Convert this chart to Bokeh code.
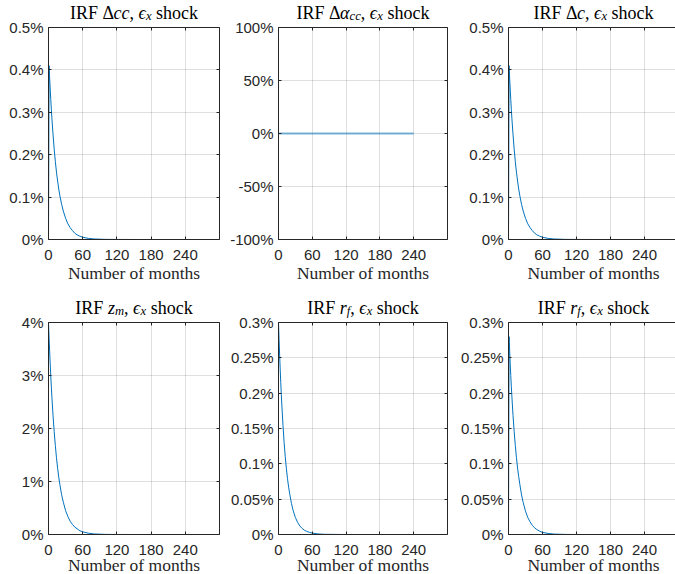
from bokeh.plotting import figure
from bokeh.layouts import gridplot
from bokeh.models import Range1d, FixedTicker, Label, LinearAxis, Grid
from bokeh.embed import file_html
from bokeh.resources import INLINE

# ---------------- data (values in percent) ----------------
months = [0, 1, 2, 3, 4, 5, 6, 8, 10, 12, 14, 16, 18, 20, 23, 26, 30, 34, 38, 42,
          46, 50, 55, 60, 70, 80, 100, 120, 160, 200, 240]

irf_dcc = [0, 0.410, 0.381, 0.355, 0.330, 0.307, 0.285, 0.247, 0.213, 0.184, 0.159,
           0.138, 0.119, 0.103, 0.083, 0.067, 0.050, 0.037, 0.028, 0.021, 0.015,
           0.011, 0.0078, 0.0054, 0.0026, 0.0012, 0.0003, 0.0001, 0, 0, 0]

months_alpha = [0, 240]
irf_dalpha = [0, 0]

irf_dc = [0, 0.410, 0.381, 0.355, 0.330, 0.307, 0.285, 0.247, 0.213, 0.184, 0.159,
          0.138, 0.119, 0.103, 0.083, 0.067, 0.050, 0.037, 0.028, 0.021, 0.015,
          0.011, 0.0078, 0.0054, 0.0026, 0.0012, 0.0003, 0.0001, 0, 0, 0]

irf_zm = [4.00, 3.72, 3.46, 3.22, 2.99, 2.78, 2.59, 2.24, 1.94, 1.68, 1.45,
          1.25, 1.08, 0.94, 0.75, 0.61, 0.45, 0.34, 0.25, 0.19, 0.14,
          0.11, 0.07, 0.05, 0.025, 0.010, 0.002, 0.0005, 0, 0, 0]

irf_rf_a = [0.300, 0.276, 0.254, 0.234, 0.215, 0.198, 0.182, 0.154, 0.130, 0.110, 0.093,
            0.079, 0.067, 0.057, 0.044, 0.034, 0.024, 0.017, 0.012, 0.0085, 0.006,
            0.0045, 0.003, 0.002, 0.0008, 0.0003, 0.0001, 0, 0, 0, 0]

irf_rf_b = [0, 0.280, 0.260, 0.242, 0.225, 0.209, 0.195, 0.168, 0.146, 0.126, 0.109,
            0.094, 0.082, 0.071, 0.056, 0.045, 0.033, 0.024, 0.018, 0.013, 0.0095,
            0.007, 0.0047, 0.003, 0.0015, 0.0006, 0.0001, 0, 0, 0, 0]

x_ticks = [0, 60, 120, 180, 240]
x_max = 300

yt_small = [0, 0.1, 0.2, 0.3, 0.4, 0.5]
yl_small = ["0%", "0.1%", "0.2%", "0.3%", "0.4%", "0.5%"]
yt_alpha = [-100, -50, 0, 50, 100]
yl_alpha = ["-100%", "-50%", "0%", "50%", "100%"]
yt_zm = [0, 1, 2, 3, 4]
yl_zm = ["0%", "1%", "2%", "3%", "4%"]
yt_rf = [0, 0.05, 0.1, 0.15, 0.2, 0.25, 0.3]
yl_rf = ["0%", "0.05%", "0.1%", "0.15%", "0.2%", "0.25%", "0.3%"]

x_label = "Number of months"

# title pieces: (text, italic, subscript)
titles = [
    [("IRF Δ", False, False), ("cc", True, False), (", ", False, False),
     ("ϵ", True, False), ("x", True, True), (" shock", False, False)],
    [("IRF Δ", False, False), ("α", True, False), ("cc", True, True), (", ", False, False),
     ("ϵ", True, False), ("x", True, True), (" shock", False, False)],
    [("IRF Δ", False, False), ("c", True, False), (", ", False, False),
     ("ϵ", True, False), ("x", True, True), (" shock", False, False)],
    [("IRF ", False, False), ("z", True, False), ("m", True, True), (", ", False, False),
     ("ϵ", True, False), ("x", True, True), (" shock", False, False)],
    [("IRF ", False, False), ("r", True, False), ("f", True, True), (", ", False, False),
     ("ϵ", True, False), ("x", True, True), (" shock", False, False)],
    [("IRF ", False, False), ("r", True, False), ("f", True, True), (", ", False, False),
     ("ϵ", True, False), ("x", True, True), (" shock", False, False)],
]

# ---------------- styling / geometry ----------------
AX = "#262626"
BLUE = "#0072BD"
SERIF = "Liberation Serif"
SANS = "Liberation Sans"
TITLE_SIZE = 18.0
XLAB_SIZE = 17.5
BASE_FIX = 6.0   # renderer places alphabetic baselines this much lower

REG = {' ': 250, 'I': 333, 'R': 667, 'F': 556, ',': 250, 's': 389, 'h': 500,
       'o': 500, 'c': 444, 'k': 500, 'Δ': 612}
ITA = {'c': 444, 'z': 389, 'm': 722, 'r': 389, 'x': 444, 'f': 278, 'α': 530, 'ϵ': 420}

FIG_W = 225
# per column: (box left px within figure, full box width px, draw right edge)
col_cfg = [(48, 171, True), (53, 169, True), (58, 170, False)]
# per row: (figure height, box top px, box height px, x-label baseline from figure bottom)
row_cfg = [(295, 27, 212, 16.7), (279, 27, 212, 4.0)]
TITLE_BASE_FROM_TOP = 18.3


def seg_width(text, italic, size):
    table = ITA if italic else REG
    return sum(table.get(ch, 500) for ch in text) * size / 1000.0


def add_title(p, segs, cx, base_y):
    parts = []
    for text, italic, sub in segs:
        fs = TITLE_SIZE * 0.7 if sub else TITLE_SIZE
        parts.append((text, italic, sub, fs, seg_width(text, italic, fs)))
    total = sum(pt[4] for pt in parts)
    x = cx - total / 2.0
    for text, italic, sub, fs, w in parts:
        lead = len(text) - len(text.lstrip(' '))
        shown = text.strip(' ')
        if shown:
            p.add_layout(Label(
                x=x + lead * REG[' '] * fs / 1000.0,
                y=base_y - (0.15 * TITLE_SIZE if sub else 0),
                x_units="screen", y_units="screen", text=shown,
                text_font=SERIF, text_font_size=f"{fs:.1f}px",
                text_font_style="italic" if italic else "normal",
                text_align="left", text_baseline="alphabetic", text_color="black"))
        x += w


def style_axis(ax, show_labels):
    ax.axis_line_color = AX
    ax.axis_line_width = 1
    ax.major_tick_line_color = AX
    ax.major_tick_in = 3
    ax.major_tick_out = 0
    ax.minor_tick_line_color = None
    ax.major_label_text_font = SANS
    ax.major_label_text_font_size = "15px"
    ax.major_label_text_color = AX if show_labels else None


HAS_CROSS = "cross_bounds" in Grid.properties()


def make_panel(r, c, xs, ys, yrange, yticks, ylabels, segs, lw=1.0, la=1.0):
    bl, bw, right_edge = col_cfg[c]
    fh, bt, bh, xl_base = row_cfg[r]
    ux = x_max / bw
    x0 = -bl * ux
    x1 = x0 + FIG_W * ux
    ymin, ymax = yrange
    uy = (ymax - ymin) / bh
    y1 = ymax + bt * uy
    y0 = y1 - fh * uy

    p = figure(width=FIG_W, height=fh, output_backend="svg", toolbar_location=None,
               title=None, min_border=0, min_border_left=0, min_border_right=0,
               min_border_top=0, min_border_bottom=0,
               x_range=Range1d(x0, x1), y_range=Range1d(y0, y1))
    p.background_fill_color = "white"
    p.border_fill_color = "white"
    p.outline_line_color = None

    # bottom and left axes, pinned to the box edges
    p.xaxis.fixed_location = ymin
    p.xaxis.bounds = (0, x_max)
    p.xaxis.ticker = FixedTicker(ticks=x_ticks)
    p.xaxis.major_label_standoff = 10
    p.yaxis.fixed_location = 0
    p.yaxis.bounds = (ymin, ymax)
    p.yaxis.ticker = FixedTicker(ticks=yticks)
    p.yaxis.major_label_overrides = {t: l for t, l in zip(yticks, ylabels)}
    p.yaxis.major_label_standoff = 5
    style_axis(p.xaxis[0], True)
    style_axis(p.yaxis[0], True)

    # top (and right) box edges with inward ticks
    top = LinearAxis(fixed_location=ymax, bounds=(0, x_max), ticker=FixedTicker(ticks=x_ticks))
    style_axis(top, False)
    p.add_layout(top, "above")
    if right_edge:
        rgt = LinearAxis(fixed_location=x_max, bounds=(ymin, ymax),
                         ticker=FixedTicker(ticks=yticks))
        style_axis(rgt, False)
        p.add_layout(rgt, "right")

    # grid
    p.xgrid.ticker = FixedTicker(ticks=x_ticks)
    p.ygrid.ticker = FixedTicker(ticks=yticks)
    if HAS_CROSS:
        for g in p.grid:
            g.grid_line_color = AX
            g.grid_line_alpha = 0.15
            g.grid_line_width = 1
        p.xgrid.bounds = (0, x_max)
        p.xgrid.cross_bounds = (ymin, ymax)
        p.ygrid.bounds = (ymin, ymax)
        p.ygrid.cross_bounds = (0, x_max)
    else:
        p.grid.visible = False
        p.segment(x0=x_ticks, y0=[ymin] * len(x_ticks), x1=x_ticks, y1=[ymax] * len(x_ticks),
                  line_color=AX, line_alpha=0.15, line_width=1)
        p.segment(x0=[0] * len(yticks), y0=yticks, x1=[x_max] * len(yticks), y1=yticks,
                  line_color=AX, line_alpha=0.15, line_width=1)

    p.line(xs, ys, line_color=BLUE, line_width=lw, line_alpha=la)

    cx = bl + bw / 2.0
    p.add_layout(Label(x=cx, y=xl_base + BASE_FIX, x_units="screen", y_units="screen",
                       text=x_label, text_font=SERIF,
                       text_font_size=f"{XLAB_SIZE}px", text_align="center",
                       text_baseline="alphabetic", text_color=AX))
    add_title(p, segs, cx, fh - TITLE_BASE_FROM_TOP + BASE_FIX)
    return p


p1 = make_panel(0, 0, months, irf_dcc, (0, 0.5), yt_small, yl_small, titles[0])
p2 = make_panel(0, 1, months_alpha, irf_dalpha, (-100, 100), yt_alpha, yl_alpha, titles[1],
                lw=2.0, la=0.5)
p3 = make_panel(0, 2, months, irf_dc, (0, 0.5), yt_small, yl_small, titles[2])
p4 = make_panel(1, 0, months, irf_zm, (0, 4), yt_zm, yl_zm, titles[3])
p5 = make_panel(1, 1, months, irf_rf_a, (0, 0.3), yt_rf, yl_rf, titles[4])
p6 = make_panel(1, 2, months, irf_rf_b, (0, 0.3), yt_rf, yl_rf, titles[5])

grid = gridplot([[p1, p2, p3], [p4, p5, p6]], toolbar_location=None)

open("out.html", "w").write(file_html(grid, INLINE))
